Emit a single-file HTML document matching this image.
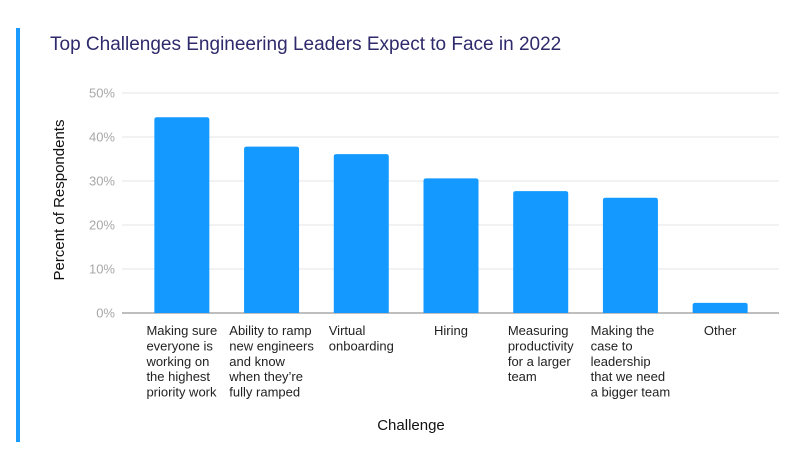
<!DOCTYPE html>
<html><head><meta charset="utf-8"><style>
html,body{margin:0;padding:0;background:#fff;width:800px;height:453px;overflow:hidden}
svg{display:block;font-family:"Liberation Sans",sans-serif}
</style></head><body>
<svg id="c" width="800" height="453" viewBox="0 0 800 453">
<rect x="16" y="28" width="4" height="414" fill="#1a9bff"/>
<text x="50" y="50" font-size="19" fill="#2e2a6b">Top Challenges Engineering Leaders Expect to Face in 2022</text>
<g id="grid"></g><g id="bars"></g><g id="xl"></g>
<text transform="translate(64,200) rotate(-90)" text-anchor="middle" font-size="15" fill="#111">Percent of Respondents</text>
<text x="411" y="430" text-anchor="middle" font-size="15" fill="#111">Challenge</text>
</svg>
<script>
const categories=[["Making sure","everyone is","working on","the highest","priority work"],["Ability to ramp","new engineers","and know","when they’re","fully ramped"],["Virtual","onboarding"],["Hiring"],["Measuring","productivity","for a larger","team"],["Making the","case to","leadership","that we need","a bigger team"],["Other"]];
const values=[44.5,37.8,36.1,30.6,27.7,26.2,2.3];
const yTicks=[0,10,20,30,40,50];
const NS="http://www.w3.org/2000/svg";
const x0=137,x1=765,yB=313,yT=93,yMax=50;
const step=(x1-x0)/categories.length,bw=55;
const y=v=>yB-(v/yMax)*(yB-yT);
const xc=i=>x0+step*(i+0.5);
const grid=document.getElementById('grid'),bars=document.getElementById('bars'),xl=document.getElementById('xl');
yTicks.forEach(t=>{
 const l=document.createElementNS(NS,'line');
 
 
 l.setAttribute('x1',122);l.setAttribute('x2',779);l.setAttribute('y1',y(t));l.setAttribute('y2',y(t));
 l.setAttribute('stroke',t===0?'#a8a8a8':'#e2e4e8');l.setAttribute('stroke-width',t===0?1.5:1);
 grid.appendChild(l);
 const tx=document.createElementNS(NS,'text');
 
 
 tx.setAttribute('x',115);tx.setAttribute('y',y(t)+4.5);tx.setAttribute('text-anchor','end');
 tx.setAttribute('font-size','13');tx.setAttribute('fill','#a8a8a8');tx.textContent=t+'%';
 grid.appendChild(tx);
});
values.forEach((v,i)=>{
 const r=document.createElementNS(NS,'path');
 
 
 const L=xc(i)-bw/2,T=y(v),R=L+bw,rr=2.5;
 r.setAttribute('d',`M${L},${yB}V${T+rr}Q${L},${T} ${L+rr},${T}H${R-rr}Q${R},${T} ${R},${T+rr}V${yB}Z`);
 r.setAttribute('fill','#1399ff');
 bars.appendChild(r);
 const t=document.createElementNS(NS,'text');
 
 
 t.setAttribute('font-size','13');t.setAttribute('fill','#222');
 xl.appendChild(t);
 categories[i].forEach((s,k)=>{
  const ts=document.createElementNS(NS,'tspan');
  ts.setAttribute('y',335+k*15.4);ts.textContent=s;t.appendChild(ts);
 });
 let mw=0;t.querySelectorAll('tspan').forEach(ts=>{mw=Math.max(mw,ts.getComputedTextLength());});
 t.querySelectorAll('tspan').forEach(ts=>ts.setAttribute('x',xc(i)-mw/2));
});
</script>
</body></html>
